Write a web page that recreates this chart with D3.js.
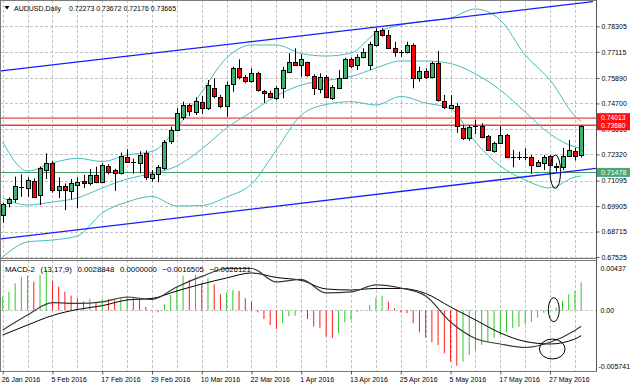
<!DOCTYPE html>
<html>
<head>
<meta charset="utf-8">
<script src="https://cdn.jsdelivr.net/npm/d3@7/dist/d3.min.js"></script>
<style>
html,body{margin:0;padding:0;background:#fff;}
svg{display:block;}
text{font-family:"Liberation Sans",Arial,sans-serif;font-size:7px;fill:#000;}
</style>
</head>
<body>
<svg id="chart" width="630" height="388"></svg>
<script>
// ---------------- DATA ----------------
const symbolTitle = "AUDUSD,Daily";
const openP = [0.69487,0.70034,0.70221,0.70782,0.70749,0.71076,0.70399,0.71590,0.71940,0.70633,
0.70843,0.70624,0.70889,0.71076,0.70969,0.71357,0.71029,0.71777,0.71567,0.71436,
0.72211,0.71954,0.71940,0.72369,0.71216,0.71403,0.71683,0.72922,0.73459,0.74081,
0.74627,0.74314,0.74781,0.74473,0.75408,0.75015,0.74581,0.75595,0.76342,0.75922,
0.75749,0.76109,0.75296,0.75202,0.74941,0.75408,0.76184,0.76651,0.76497,0.76623,
0.75983,0.75375,0.75950,0.74941,0.75436,0.75903,0.76763,0.76497,0.76884,0.76497,
0.77431,0.78132,0.77898,0.77305,0.77095,0.77118,0.77431,0.75875,0.76216,0.75922,
0.76576,0.74828,0.74473,0.74595,0.73539,0.73071,0.73655,0.73660,0.73179,0.72492,
0.72838,0.73225,0.72221,0.72221,0.72216,0.72183,0.71777,0.71903,0.72244,0.71716,
0.71707,0.72244,0.72501,0.72273];
const highP = [0.70048,0.70314,0.71277,0.71390,0.71240,0.71202,0.71754,0.72370,0.72010,0.71250,
0.70960,0.71170,0.71240,0.71357,0.71637,0.71745,0.71904,0.71856,0.71646,0.72408,
0.72557,0.72117,0.72463,0.72502,0.71590,0.71824,0.72992,0.73614,0.74473,0.74781,
0.74706,0.74987,0.75048,0.75796,0.75875,0.75095,0.75716,0.76417,0.76763,0.76030,
0.76342,0.76184,0.75328,0.75296,0.75515,0.76417,0.77043,0.77277,0.77000,0.76651,
0.76062,0.76109,0.76030,0.75562,0.76263,0.76838,0.76838,0.77000,0.77277,0.77585,
0.78212,0.78212,0.78132,0.77585,0.77198,0.77585,0.77511,0.76417,0.76342,0.76651,
0.77151,0.75095,0.75095,0.74706,0.73693,0.73693,0.73950,0.73772,0.73225,0.72913,
0.73646,0.73272,0.72525,0.72445,0.72604,0.72291,0.72057,0.72291,0.72291,0.71904,
0.72618,0.72992,0.72618,0.73672];
const lowP = [0.69128,0.69847,0.70062,0.70342,0.70342,0.70295,0.69955,0.71170,0.70530,0.70281,
0.69721,0.70211,0.69800,0.70749,0.70866,0.70969,0.70969,0.71390,0.70609,0.71380,
0.71917,0.71413,0.71436,0.71123,0.71043,0.71029,0.71590,0.72805,0.73413,0.73927,
0.74114,0.74160,0.74207,0.74394,0.74941,0.74473,0.74081,0.75249,0.75828,0.75642,
0.75670,0.75249,0.74735,0.74941,0.74861,0.74941,0.76109,0.76450,0.75950,0.75950,
0.75095,0.75174,0.74941,0.74861,0.75375,0.75875,0.76342,0.76263,0.76810,0.76263,
0.77352,0.77819,0.77277,0.76884,0.76884,0.77043,0.75408,0.75716,0.75842,0.75875,
0.74781,0.74441,0.74441,0.73333,0.72992,0.72959,0.73272,0.73071,0.72492,0.72398,
0.72805,0.72183,0.71716,0.72057,0.72057,0.71403,0.71744,0.71590,0.71777,0.71511,
0.71590,0.72211,0.72034,0.72176];
const closeP = [0.69987,0.70221,0.70843,0.70763,0.71123,0.70314,0.71670,0.71940,0.70656,0.70820,
0.70656,0.70983,0.71043,0.70969,0.71343,0.71043,0.71824,0.71511,0.71450,0.72244,
0.71964,0.71945,0.72304,0.71248,0.71403,0.71730,0.72899,0.73459,0.74268,0.74627,
0.74361,0.74814,0.74473,0.75562,0.75048,0.74581,0.75562,0.76342,0.75950,0.75749,
0.76109,0.75328,0.75202,0.74987,0.75408,0.76263,0.76651,0.76497,0.76777,0.76029,
0.75408,0.75950,0.75015,0.75483,0.75903,0.76763,0.76450,0.76884,0.77118,0.77464,
0.78085,0.77898,0.77305,0.77090,0.77071,0.77431,0.75875,0.76216,0.75950,0.76604,
0.74861,0.74520,0.74627,0.73646,0.73071,0.73614,0.73637,0.73118,0.72525,0.72838,
0.73225,0.72211,0.72198,0.72202,0.72202,0.71824,0.71978,0.72211,0.71824,0.71791,
0.72244,0.72548,0.72244,0.73665];

const dateLabelIdx = [0,8,16,24,32,40,48,56,64,72,80,88];
const dateLabels = ["26 Jan 2016","5 Feb 2016","17 Feb 2016","29 Feb 2016","10 Mar 2016","22 Mar 2016",
"1 Apr 2016","13 Apr 2016","25 Apr 2016","5 May 2016","17 May 2016","27 May 2016"];
const priceTicks = [0.78305,0.77115,0.75890,0.74700,0.73510,0.72320,0.71095,0.69905,0.68715,0.67525];

// Bollinger bands read at every 4th bar
const bandIdx = [0,4,8,12,16,20,24,28,32,36,40,44,48,52,56,60,64,68,72,76,80,84,88,92,93];
const bbUpper = [0.72899,0.71543,0.71917,0.72137,0.71987,0.72291,0.72455,0.73553,0.75235,0.76824,
0.77431,0.77431,0.77034,0.76917,0.77057,0.77992,0.78366,0.78553,0.78693,0.79113,
0.78599,0.76964,0.75796,0.74113,0.73856];
const bbMiddle = [0.70282,0.69955,0.70095,0.70282,0.70749,0.71170,0.71427,0.71777,0.72571,0.73553,
0.74300,0.75048,0.75562,0.75772,0.75959,0.76356,0.76684,0.76684,0.76567,0.76076,
0.75328,0.74300,0.73272,0.72665,0.72595];
const bbLower = [0.67525,0.68226,0.68319,0.68506,0.69581,0.70095,0.70352,0.69908,0.69931,0.70328,
0.70936,0.72525,0.74160,0.74651,0.74782,0.74628,0.75025,0.74721,0.74464,0.72899,
0.71777,0.71123,0.70749,0.71263,0.71310];

// MACD-2 (13,17,9)
const macdHist = [0.00141,0.00193,0.00280,0.00348,0.00358,0.00296,0.00365,0.00417,0.00303,0.00245,
0.00193,0.00152,0.00125,0.00090,0.00118,0.00084,0.00118,0.00115,0.00104,0.00125,
0.00141,0.00125,0.00118,0.00035,-0.00006,-0.00020,0.00063,0.00159,0.00245,0.00358,
0.00314,0.00365,0.00280,0.00331,0.00269,0.00166,0.00183,0.00210,0.00200,0.00125,
0.00090,-0.00020,-0.00089,-0.00151,-0.00192,-0.00133,-0.00061,-0.00058,-0.00020,-0.00089,
-0.00168,-0.00182,-0.00271,-0.00285,-0.00236,-0.00123,-0.00099,-0.00020,0.00003,0.00056,
0.00131,0.00152,0.00090,0.00022,-0.00020,-0.00030,-0.00133,-0.00226,-0.00282,-0.00329,
-0.00357,-0.00443,-0.00529,-0.00571,-0.00529,-0.00460,-0.00409,-0.00357,-0.00323,-0.00282,
-0.00254,-0.00226,-0.00185,-0.00171,-0.00143,-0.00117,-0.00075,-0.00027,-0.00006,0.00028,
0.00097,0.00166,0.00200,0.0028848];
const macdLineIdx = [0,4,8,12,16,20,24,28,32,36,40,44,48,52,56,60,64,68,72,76,80,84,88,92,93];
const macdMain = [-0.00202,-0.00047,0.00079,0.00071,0.00087,0.00138,0.00112,0.00241,0.00350,0.00432,
0.00432,0.00293,0.00319,0.00180,0.00190,0.00262,0.00231,0.00149,-0.00120,-0.00290,
-0.00347,-0.00383,-0.00329,-0.00207,-0.0016505];
const macdSignal = [-0.00254,-0.00151,-0.00053,0.00009,0.00048,0.00107,0.00123,0.00200,0.00272,0.00334,
0.00386,0.00339,0.00309,0.00221,0.00210,0.00226,0.00226,0.00174,0.00035,-0.00099,
-0.00233,-0.00321,-0.00347,-0.00295,-0.0026121];
const macdExtra = 0.0;
const macdTicks = [0.00437, 0.0, -0.005741];
const macdTickLabels = ["0.00437", "0.00", "-0.005741"];

// drawn objects
const levelsRed = [0.74013, 0.73680];
const levelGreen = [0.71478];
const channelUpper = [[-0.43, 0.76216], [94.9, 0.79455]];
const channelLower = [[-0.43, 0.68366], [95.4, 0.71670]];
// ellipses: [bar centre, value centre, half width in bars, half height in value units]
const ellipseMain = [88.84, 0.71511, 0.85, 0.0078];
const ellipseHist = [88.6, 0.000068, 0.88, 0.00124];
const ellipseLines = [88.35, -0.00399, 2.06, 0.00103];

// ---------------- DRAW ----------------
const svg = d3.select('#chart');
svg.append('rect').attr('width',630).attr('height',388).attr('fill','#fff');

const PLOT_R = 596;
const MAIN = {top: 0, bottom: 258};
const SUB = {top: 260, bottom: 371};

const x = d3.scaleLinear().domain([0, openP.length - 1]).range([2.7, 581.16]);
const y = d3.scaleLinear().domain([0.67478, 0.79534]).range([MAIN.bottom, MAIN.top]);
const yM = d3.scaleLinear().domain([macdTicks[2], macdTicks[0]]).range([366, 268]);
const px = v => Math.round(v) + 0.5;

const defs = svg.append('defs');
defs.append('clipPath').attr('id','clipMain').append('rect')
  .attr('x',1).attr('y',1).attr('width',PLOT_R-1).attr('height',MAIN.bottom-1);
defs.append('clipPath').attr('id','clipSub').append('rect')
  .attr('x',1).attr('y',SUB.top+1).attr('width',PLOT_R-1).attr('height',SUB.bottom-SUB.top-1);

const gridColor = '#c2c2c2';
const gridIdx = d3.range(0, openP.length, 4);

// ---- main panel
const gMain = svg.append('g').attr('clip-path','url(#clipMain)');
gMain.selectAll('line.vg').data(gridIdx).join('line').attr('class','vg')
  .attr('x1',d=>px(x(d))).attr('x2',d=>px(x(d))).attr('y1',MAIN.top).attr('y2',MAIN.bottom)
  .attr('stroke',gridColor).attr('stroke-dasharray','3,2');
gMain.selectAll('line.hg').data(priceTicks).join('line').attr('class','hg')
  .attr('x1',0).attr('x2',PLOT_R).attr('y1',d=>px(y(d))).attr('y2',d=>px(y(d)))
  .attr('stroke',gridColor).attr('stroke-dasharray','3,2');

// horizontal levels
gMain.selectAll('line.lr').data(levelsRed).join('line').attr('class','lr')
  .attr('x1',0).attr('x2',PLOT_R).attr('y1',d=>y(d)).attr('y2',d=>y(d))
  .attr('stroke',(d,i)=> i===0 ? '#f07a7a' : '#e84040').attr('stroke-width',1.6);
gMain.selectAll('line.lg').data(levelGreen).join('line').attr('class','lg')
  .attr('x1',0).attr('x2',PLOT_R).attr('y1',d=>px(y(d))).attr('y2',d=>px(y(d)))
  .attr('stroke','#3f9e66').attr('stroke-width',1);

// bollinger bands
const bandLine = vals => d3.line().x((d,i)=>x(bandIdx[i])).y(d=>y(d)).curve(d3.curveMonotoneX)(vals);
[bbUpper, bbMiddle, bbLower].forEach(vals => {
  gMain.append('path').attr('d', bandLine(vals)).attr('fill','none')
    .attr('stroke','#45bdbd').attr('stroke-width',1);
});

// channel lines
[channelUpper, channelLower].forEach(pts => {
  gMain.append('line')
    .attr('x1',x(pts[0][0])).attr('y1',y(pts[0][1]))
    .attr('x2',x(pts[1][0])).attr('y2',y(pts[1][1]))
    .attr('stroke','#1a1aff').attr('stroke-width',1.3);
});

// candles
const gC = gMain.append('g');
openP.forEach((o, i) => {
  const h = highP[i], l = lowP[i], c = closeP[i];
  const cx = px(x(i));
  gC.append('line').attr('x1',cx).attr('x2',cx).attr('y1',y(h)).attr('y2',y(l))
    .attr('stroke','#000').attr('stroke-width',1);
  const yt = y(Math.max(o,c)), yb = y(Math.min(o,c));
  if (yb - yt < 1.3) {
    const yy = px((yt+yb)/2);
    gC.append('line').attr('x1',cx-2.5).attr('x2',cx+2.5).attr('y1',yy).attr('y2',yy)
      .attr('stroke','#000').attr('stroke-width',1);
  } else {
    const t = px(yt), b = px(yb);
    gC.append('rect').attr('x',cx-2).attr('y',t).attr('width',4).attr('height',Math.max(1,b-t))
      .attr('fill', c >= o ? '#3cb371' : '#ff0000').attr('stroke','#000').attr('stroke-width',1);
  }
});

// ellipse annotation main
gMain.append('ellipse')
  .attr('cx',x(ellipseMain[0])).attr('cy',y(ellipseMain[1]))
  .attr('rx',x(ellipseMain[0]+ellipseMain[2])-x(ellipseMain[0]))
  .attr('ry',y(ellipseMain[1]-ellipseMain[3])-y(ellipseMain[1]))
  .attr('fill','none').attr('stroke','#000').attr('stroke-width',1);

// title
svg.append('path').attr('d','M4.5,6 L9.5,6 L7,9.5 Z').attr('fill','#000');
svg.append('text').attr('x',14).attr('y',11).text(symbolTitle);
const f5 = d3.format('.5f');
svg.append('text').attr('x',69).attr('y',11)
  .text([openP, highP, lowP, closeP].map(a => f5(a[a.length-1])).join(' '));

// ---- MACD panel
const gSub = svg.append('g').attr('clip-path','url(#clipSub)');
gSub.selectAll('line.vg').data(gridIdx).join('line').attr('class','vg')
  .attr('x1',d=>px(x(d))).attr('x2',d=>px(x(d))).attr('y1',SUB.top).attr('y2',SUB.bottom)
  .attr('stroke',gridColor).attr('stroke-dasharray','3,2');
gSub.append('line').attr('x1',0).attr('x2',PLOT_R).attr('y1',px(yM(0))).attr('y2',px(yM(0)))
  .attr('stroke',gridColor).attr('stroke-dasharray','3,2');

gSub.selectAll('rect.h').data(macdHist).join('rect').attr('class','h')
  .attr('x',(d,i)=>x(i)-0.5).attr('width',1)
  .attr('y',d=>yM(Math.max(0,d))).attr('height',d=>Math.abs(yM(d)-yM(0)))
  .attr('fill',(d,i)=> (i===0 || d >= macdHist[i-1]) ? '#2ec82e' : '#ff1a1a');

const macdLine = vals => d3.line().x((d,i)=>x(macdLineIdx[i])).y(d=>yM(d)).curve(d3.curveMonotoneX)(vals);
gSub.append('path').attr('d',macdLine(macdSignal)).attr('fill','none').attr('stroke','#000').attr('stroke-width',1);
gSub.append('path').attr('d',macdLine(macdMain)).attr('fill','none').attr('stroke','#3a3a3a').attr('stroke-width',1.2);

[ellipseHist, ellipseLines].forEach(e => {
  gSub.append('ellipse')
    .attr('cx',x(e[0])).attr('cy',yM(e[1]))
    .attr('rx',x(e[0]+e[2])-x(e[0]))
    .attr('ry',yM(e[1]-e[3])-yM(e[1]))
    .attr('fill','none').attr('stroke','#000').attr('stroke-width',1);
});

const f7 = d3.format('.7f');
svg.append('text').attr('x',5).attr('y',272).style('font-size','7.8px').style('word-spacing','3.5px')
  .text('MACD-2 (13,17,9) ' + [macdHist[macdHist.length-1], macdExtra, macdMain[macdMain.length-1], macdSignal[macdSignal.length-1]].map(f7).join(' '));

// ---- frames
const frame = svg.append('g').attr('stroke','#7a7a7a').attr('stroke-width',1).attr('fill','none');
frame.append('line').attr('x1',0.5).attr('x2',0.5).attr('y1',0).attr('y2',SUB.bottom);
frame.append('line').attr('x1',0).attr('x2',PLOT_R).attr('y1',0.5).attr('y2',0.5);
frame.append('line').attr('x1',0).attr('x2',PLOT_R).attr('y1',MAIN.bottom+0.5).attr('y2',MAIN.bottom+0.5);
frame.append('line').attr('x1',0).attr('x2',PLOT_R).attr('y1',SUB.top+0.5).attr('y2',SUB.top+0.5);
frame.append('line').attr('x1',0).attr('x2',PLOT_R+0.5).attr('y1',SUB.bottom+0.5).attr('y2',SUB.bottom+0.5);
frame.append('line').attr('x1',PLOT_R+0.5).attr('x2',PLOT_R+0.5).attr('y1',0).attr('y2',SUB.bottom+0.5)
  .attr('stroke','#555');

// ---- price axis
const ax = svg.append('g').attr('transform',`translate(${PLOT_R+0.5},0)`)
  .call(d3.axisRight(y).tickValues(priceTicks).tickSize(3).tickPadding(2).tickFormat(f5));
ax.select('.domain').remove();
ax.selectAll('.tick line').attr('stroke','#555');

// price labels for levels
const lab = svg.append('g');
levelsRed.forEach(v => {
  lab.append('rect').attr('x',PLOT_R+1).attr('y',y(v)-5).attr('width',630-PLOT_R-1).attr('height',10).attr('fill','#ff1010');
});
levelsRed.forEach((v,i) => {
  lab.append('text').attr('x',PLOT_R+5).attr('y',y(v) + (i===0 ? -0.6 : 0.6)).attr('dy','0.34em')
    .style('fill','#fff').style('font-size','6.8px').text(f5(v));
});
levelGreen.forEach(v => {
  lab.append('rect').attr('x',PLOT_R+1).attr('y',y(v)-4.5).attr('width',630-PLOT_R-1).attr('height',9).attr('fill','#47a872');
  lab.append('text').attr('x',PLOT_R+5).attr('y',y(v)).attr('dy','0.34em').style('fill','#fff').text(f5(v));
});

// ---- MACD axis
const axM = svg.append('g').attr('transform',`translate(${PLOT_R+0.5},0)`)
  .call(d3.axisRight(yM).tickValues(macdTicks).tickSize(0).tickPadding(4).tickFormat((d,i)=>macdTickLabels[i]));
axM.select('.domain').remove();
axM.selectAll('.tick text').attr('x',(d,i)=> i===2 ? 2 : 4);

// ---- time axis
const axT = svg.append('g').attr('transform',`translate(0,${SUB.bottom+0.5})`)
  .call(d3.axisBottom(x).tickValues(dateLabelIdx).tickSize(3).tickPadding(3).tickFormat((d,i)=>dateLabels[i]));
axT.select('.domain').remove();
axT.selectAll('.tick line').attr('stroke','#555');
axT.selectAll('.tick text').attr('text-anchor','start').attr('x',-1.5);
</script>
</body>
</html>
